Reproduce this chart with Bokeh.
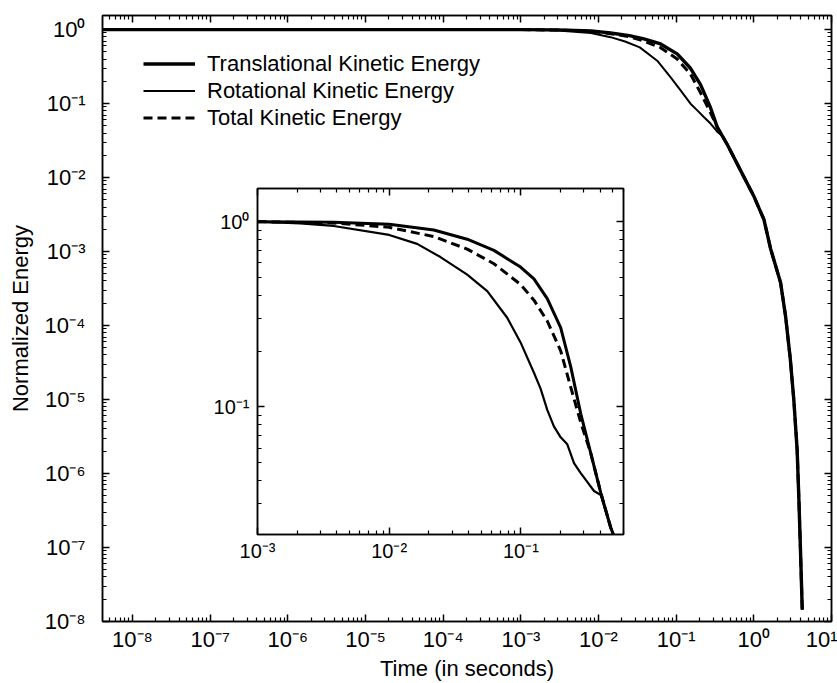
from bokeh.plotting import figure
from bokeh.models import (FixedTicker, LogAxis, Legend, LegendItem, GridBox, Range1d,
                          CustomJSTickFormatter)
from bokeh.embed import file_html
from bokeh.resources import INLINE

# ---------------- data ----------------
# main chart
main_t_trans = [4e-9, 1e-3, 3e-3, 0.008, 0.0143, 0.025, 0.0384, 0.063, 0.103, 0.153, 0.206,
                0.277, 0.338, 0.455, 0.674, 1.0, 1.35, 1.64, 2.21, 2.56, 2.95, 3.27, 3.61,
                3.80, 3.98, 4.20]
main_trans = [1.0, 1.0, 0.99, 0.96, 0.90, 0.83, 0.75, 0.64, 0.47, 0.30, 0.18,
              0.088, 0.048, 0.028, 0.0125, 0.0056, 0.0027, 0.0011, 3.8e-4, 1.35e-4, 3.5e-5,
              1.0e-5, 2.1e-6, 4.6e-7, 9.8e-8, 1.44e-8]

main_t_rot = [4e-9, 1e-3, 3e-3, 0.008, 0.0143, 0.022, 0.034, 0.057, 0.0845, 0.114, 0.153,
              0.187, 0.227, 0.277, 0.338, 0.40, 0.455, 0.674, 1.0, 1.35, 1.64, 2.21, 2.56,
              2.95, 3.27, 3.61, 3.80, 3.98, 4.20]
main_rot = [1.0, 1.0, 0.97, 0.90, 0.79, 0.69, 0.575, 0.38, 0.227, 0.151, 0.0997,
            0.081, 0.066, 0.0537, 0.0417, 0.036, 0.028, 0.0125, 0.0056, 0.0027, 0.0011,
            3.8e-4, 1.35e-4, 3.5e-5, 1.0e-5, 2.1e-6, 4.6e-7, 9.8e-8, 1.44e-8]

main_t_total = [4e-9, 1e-3, 3e-3, 0.008, 0.0143, 0.025, 0.0384, 0.063, 0.103, 0.153, 0.206,
                0.277, 0.338, 0.455, 0.674, 1.0, 1.35, 1.64, 2.21, 2.56, 2.95, 3.27, 3.61,
                3.80, 3.98, 4.20]
main_total = [1.0, 1.0, 0.985, 0.95, 0.88, 0.80, 0.70, 0.57, 0.40, 0.25, 0.14,
              0.075, 0.048, 0.028, 0.0125, 0.0056, 0.0027, 0.0011, 3.8e-4, 1.35e-4, 3.5e-5,
              1.0e-5, 2.1e-6, 4.6e-7, 9.8e-8, 1.44e-8]

# inset chart
inset_t_trans = [0.001, 0.00379, 0.0100, 0.0218, 0.0391, 0.0624, 0.0994, 0.1256, 0.1585,
                 0.2004, 0.2388, 0.2845, 0.339, 0.404, 0.481, 0.525]
inset_trans = [1.0, 0.992, 0.968, 0.902, 0.804, 0.700, 0.569, 0.491, 0.384,
               0.268, 0.165, 0.092, 0.0563, 0.0344, 0.0223, 0.0190]

inset_t_total = [0.001, 0.00379, 0.0100, 0.0218, 0.0391, 0.0624, 0.0994, 0.1256, 0.1585,
                 0.2004, 0.2388, 0.2845, 0.339, 0.404, 0.481, 0.525]
inset_total = [1.0, 0.984, 0.932, 0.831, 0.711, 0.593, 0.458, 0.377, 0.291,
               0.201, 0.128, 0.0825, 0.0563, 0.0344, 0.0223, 0.0190]

inset_t_rot = [0.001, 0.00211, 0.00379, 0.0100, 0.0163, 0.0245, 0.0391, 0.0555, 0.0787,
               0.0994, 0.1256, 0.141, 0.1585, 0.178, 0.2004, 0.225, 0.253, 0.2845, 0.319,
               0.359, 0.404, 0.440, 0.481, 0.525]
inset_rot = [1.0, 0.980, 0.948, 0.848, 0.759, 0.644, 0.518, 0.422, 0.303,
             0.223, 0.153, 0.1255, 0.0965, 0.0785, 0.0686, 0.0629, 0.0498, 0.0440, 0.0394,
             0.0352, 0.0335, 0.0275, 0.0223, 0.0190]

series_labels = ["Translational Kinetic Energy", "Rotational Kinetic Energy", "Total Kinetic Energy"]

main_x_exps = [-8, -7, -6, -5, -4, -3, -2, -1, 0, 1]
main_x_labels = ["10⁻⁸", "10⁻⁷", "10⁻⁶", "10⁻⁵", "10⁻⁴", "10⁻³", "10⁻²", "10⁻¹", "10⁰", "10¹"]
main_y_exps = [-8, -7, -6, -5, -4, -3, -2, -1, 0]
main_y_labels = ["10⁻⁸", "10⁻⁷", "10⁻⁶", "10⁻⁵", "10⁻⁴", "10⁻³", "10⁻²", "10⁻¹", "10⁰"]
inset_x_exps = [-3, -2, -1]
inset_x_labels = ["10⁻³", "10⁻²", "10⁻¹"]
inset_y_exps = [-1, 0]
inset_y_labels = ["10⁻¹", "10⁰"]

x_title = "Time (in seconds)"
y_title = "Normalized Energy"

# ---------------- styling helpers ----------------
FONT = "Liberation Sans"


def make_formatter(exps, labels):
    return CustomJSTickFormatter(args=dict(exps=exps, labels=labels), code="""
        const e = Math.round(Math.log10(tick));
        const i = exps.indexOf(e);
        return i >= 0 ? labels[i] : "";
    """)


def blank_formatter():
    return CustomJSTickFormatter(code='return "";')


def make_ticker(exps, lo, hi):
    major = [10.0 ** e for e in exps]
    minor = []
    for e in range(min(exps) - 1, max(exps) + 1):
        for m in range(2, 10):
            v = m * 10.0 ** e
            if lo <= v <= hi:
                minor.append(v)
    return FixedTicker(ticks=major, minor_ticks=minor)


def style_axis(ax, font_size, standoff, show_labels=True):
    ax.axis_line_color = "black"
    ax.axis_line_width = 1.5
    ax.major_tick_line_color = "black"
    ax.minor_tick_line_color = "black"
    ax.major_tick_line_width = 1.5
    ax.minor_tick_line_width = 1.2
    ax.major_tick_in = 7
    ax.major_tick_out = 0
    ax.minor_tick_in = 4
    ax.minor_tick_out = 0
    ax.major_label_text_font = FONT
    if show_labels:
        ax.major_label_text_color = "black"
        ax.major_label_text_font_size = font_size
        ax.major_label_standoff = standoff
    else:
        ax.major_label_text_color = None
        ax.major_label_text_alpha = 0
        ax.major_label_text_font_size = "1px"
        ax.major_label_standoff = 0
    ax.axis_label_text_font = FONT
    ax.axis_label_text_font_style = "normal"
    ax.axis_label_text_color = "black"
    ax.axis_label_text_font_size = font_size


# ---------------- main figure ----------------
BL, BR, BT, BB = 102, 6, 15, 59      # borders of the main plot frame
W, H = 837, 683
X0, X1 = 4.11e-9, 10.0
Y0, Y1 = 1e-8, 1.55
p = figure(width=W, height=H, x_axis_type="log", y_axis_type="log",
           x_range=Range1d(X0, X1), y_range=Range1d(Y0, Y1),
           output_backend="svg", toolbar_location=None,
           min_border_left=BL, min_border_right=BR, min_border_top=BT, min_border_bottom=BB)
p.grid.visible = False
p.outline_line_color = "black"
p.outline_line_width = 1.5
p.background_fill_color = "white"
p.border_fill_color = "white"

xt = make_ticker(main_x_exps, X0, X1)
yt = make_ticker(main_y_exps, Y0, Y1)
xf = make_formatter(main_x_exps, main_x_labels)
yf = make_formatter(main_y_exps, main_y_labels)

p.xaxis.ticker = xt
p.xaxis.formatter = xf
p.yaxis.ticker = yt
p.yaxis.formatter = yf
p.xaxis.axis_label = x_title
p.yaxis.axis_label = y_title
style_axis(p.xaxis[0], "22px", 5)
style_axis(p.yaxis[0], "22px", 17)
p.xaxis.axis_label_standoff = 1
p.yaxis.axis_label_standoff = 9

top_ax = LogAxis(ticker=xt, formatter=blank_formatter())
style_axis(top_ax, "22px", 0, show_labels=False)
p.add_layout(top_ax, "above")
right_ax = LogAxis(ticker=yt, formatter=blank_formatter())
style_axis(right_ax, "22px", 0, show_labels=False)
p.add_layout(right_ax, "right")

r_rot = p.line(main_t_rot, main_rot, line_color="black", line_width=2, line_join="round")
r_tot = p.line(main_t_total, main_total, line_color="black", line_width=3, line_dash="9 5")
r_trans = p.line(main_t_trans, main_trans, line_color="black", line_width=3.4, line_join="round")

frame_h = H - BT - BB
legend = Legend(items=[LegendItem(label=series_labels[0], renderers=[r_trans]),
                       LegendItem(label=series_labels[1], renderers=[r_rot]),
                       LegendItem(label=series_labels[2], renderers=[r_tot])],
                location=(41, frame_h - 38 - 81))
legend.border_line_color = None
legend.background_fill_alpha = 0
legend.padding = 0
legend.margin = 0
legend.spacing = 0
legend.glyph_width = 52
legend.glyph_height = 27
legend.label_height = 27
legend.label_standoff = 12
legend.label_text_font = FONT
legend.label_text_font_size = "22px"
legend.label_text_color = "black"
p.add_layout(legend)

# ---------------- inset figure ----------------
# inset frame: left 257, top 188, width 366, height 349 (screen px)
IX0, IX1 = 1e-3, 0.601
IY0, IY1 = 0.0205, 1.51
IFL, IFT, IFW, IFH = 257, 188, 366, 349
ins = figure(width=BL + IFW + BR, height=BT + IFH + BB, x_axis_type="log", y_axis_type="log",
             x_range=Range1d(IX0, IX1), y_range=Range1d(IY0, IY1),
             output_backend="svg", toolbar_location=None,
             min_border_left=BL, min_border_right=BR, min_border_top=BT, min_border_bottom=BB)
ins.margin = (IFT - BT, 0, 0, IFL - BL)
ins.grid.visible = False
ins.outline_line_color = "black"
ins.outline_line_width = 1.5
ins.background_fill_color = "white"
ins.border_fill_alpha = 0

ixt = make_ticker(inset_x_exps, IX0, IX1)
iyt = make_ticker(inset_y_exps, IY0, IY1)
ixf = make_formatter(inset_x_exps, inset_x_labels)
iyf = make_formatter(inset_y_exps, inset_y_labels)
ins.xaxis.ticker = ixt
ins.xaxis.formatter = ixf
ins.yaxis.ticker = iyt
ins.yaxis.formatter = iyf
style_axis(ins.xaxis[0], "20px", 5)
style_axis(ins.yaxis[0], "20px", 8)
itop = LogAxis(ticker=ixt, formatter=blank_formatter())
style_axis(itop, "20px", 0, show_labels=False)
ins.add_layout(itop, "above")
iright = LogAxis(ticker=iyt, formatter=blank_formatter())
style_axis(iright, "20px", 0, show_labels=False)
ins.add_layout(iright, "right")

ins.line(inset_t_rot, inset_rot, line_color="black", line_width=2.2, line_join="round")
ins.line(inset_t_total, inset_total, line_color="black", line_width=3, line_dash="9 5")
ins.line(inset_t_trans, inset_trans, line_color="black", line_width=3, line_join="round")

layout = GridBox(children=[(p, 0, 0), (ins, 0, 0)])

open("out.html", "w").write(file_html(layout, INLINE))
